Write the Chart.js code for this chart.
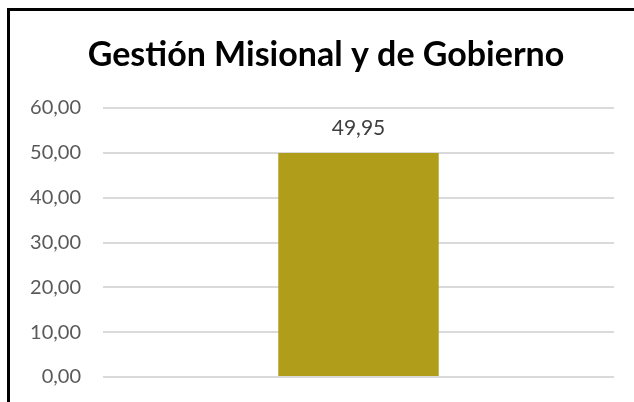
<!DOCTYPE html>
<html>
<head>
<meta charset="utf-8">
<script src="https://cdn.jsdelivr.net/npm/chart.js@4"></script>
<style>
  html, body { margin:0; padding:0; background:#fff; }
  #wrap { position:relative; width:634px; height:402px; overflow:hidden; }
  #frame { position:absolute; left:7px; top:8px; width:640px; height:420px;
           border-left:3px solid #000; border-top:3px solid #000; pointer-events:none; }
  canvas { position:absolute; left:0; top:0; }
</style>
</head>
<body>
<div id="wrap">
  <canvas id="chart" width="634" height="402"></canvas>
  <div id="frame"></div>
</div>
<script>
const categories = ["Gestión Misional y de Gobierno"];
const values = [49.95];
const yTicks = [0, 10, 20, 30, 40, 50, 60];
const titleText = "Gestión Misional y de Gobierno";

const fmt = v => v.toFixed(2).replace(".", ",");

// value label above the bar + title centred like the original
const extras = {
  id: "extras",
  afterDraw(chart) {
    const ctx = chart.ctx;
    const meta = chart.getDatasetMeta(0);
    ctx.save();
    ctx.font = "21px Lato";
    ctx.fillStyle = "#404040";
    ctx.textAlign = "center";
    ctx.textBaseline = "middle";
    meta.data.forEach((bar, i) => {
      ctx.fillText(fmt(values[i]), bar.x, bar.y - 25);
    });
    ctx.font = "bold 34px Lato";
    ctx.fillStyle = "#000";
    ctx.fillText(titleText, 326, 55);
    ctx.restore();
  }
};

new Chart(document.getElementById("chart"), {
  type: "bar",
  data: {
    labels: categories,
    datasets: [{
      data: values,
      backgroundColor: "#b09d1a",
      categoryPercentage: 1,
      barPercentage: 0.314
    }]
  },
  options: {
    responsive: false,
    animation: false,
    layout: { padding: { left: 0, right: 20, top: 108, bottom: 25 } },
    plugins: {
      legend: { display: false },
      tooltip: { enabled: false },
      title: { display: false }
    },
    scales: {
      x: { display: false },
      y: {
        min: 0, max: 60,
        afterFit: s => { s.width = 103; s.paddingTop = 0; s.paddingBottom = 0; },
        afterBuildTicks: s => { s.ticks = yTicks.map(v => ({ value: v })); },
        ticks: {
          padding: 22,
          color: "#595959",
          font: { family: "Lato", size: 20 },
          callback: v => fmt(v)
        },
        grid: { color: "#dadada", lineWidth: 2, drawTicks: false },
        border: { display: false }
      }
    }
  },
  plugins: [extras]
});
</script>
</body>
</html>
